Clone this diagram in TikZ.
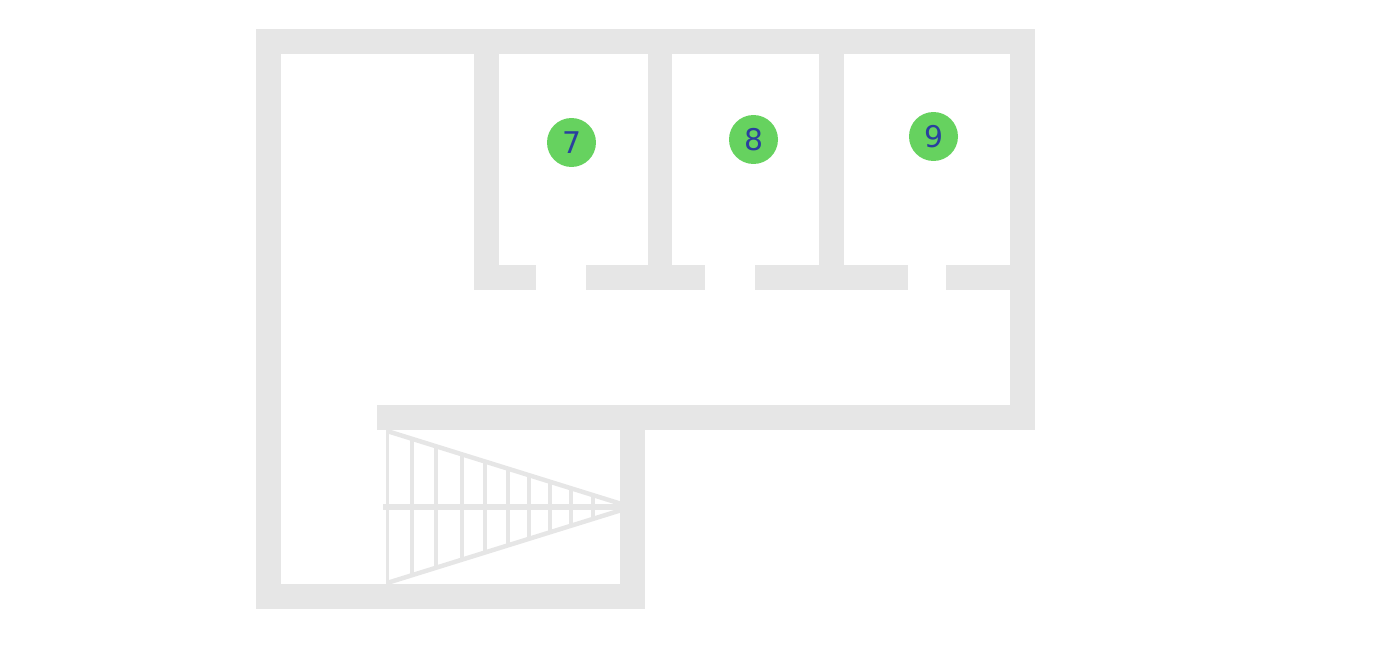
\documentclass[tikz,border=0pt]{standalone}
\usepackage{fontspec}
\setmainfont{DejaVu Sans}
\definecolor{wallgray}{HTML}{E6E6E6}
\definecolor{roomgreen}{HTML}{66D25F}
\definecolor{roomblue}{HTML}{2A3F9F}
\tikzset{
  wall/.style={fill=wallgray,draw=none},
  stair/.style={draw=wallgray,line width=0.07cm},
  room/.style={circle,fill=roomgreen,inner sep=0pt,minimum size=0.98cm,text=roomblue,font=\fontsize{17}{17}\selectfont}
}
\begin{document}
\begin{tikzpicture}[x=0.02cm,y=-0.02cm]
  \useasboundingbox (0,0) rectangle (1374,646);
  % outer walls
  \fill[wall] (256,29) rectangle (1035,54);
  \fill[wall] (256,29) rectangle (281,609);
  \fill[wall] (256,584) rectangle (645,609);
  \fill[wall] (1010,29) rectangle (1035,430);
  \fill[wall] (377,405) rectangle (1035,430);
  \fill[wall] (620,405) rectangle (645,609);
  % room partitions
  \fill[wall] (474,29) rectangle (499,290);
  \fill[wall] (648,29) rectangle (672,290);
  \fill[wall] (819,29) rectangle (844,290);
  % door wall
  \fill[wall] (474,265) rectangle (536,290);
  \fill[wall] (586,265) rectangle (705,290);
  \fill[wall] (755,265) rectangle (908,290);
  \fill[wall] (946,265) rectangle (1035,290);
  % stairs
  \coordinate (tip1) at (620,503.5);
  \coordinate (tip2) at (620,510.5);
  \coordinate (stairtop) at (387,431);
  \coordinate (stairbot) at (387,583);
  \foreach \sx in {387.5,412,436,462,485,508,529,550,571,593}{
    \pgfmathsetmacro{\dy}{(\sx-387)*0.313}
    \draw[stair] (\sx,430+\dy) -- (\sx,584-\dy);
  }
  \draw[stair,line width=0.09cm] (stairtop) -- (tip1);
  \draw[stair,line width=0.09cm] (stairbot) -- (tip2);
  \draw[stair,line width=0.12cm] (383,507) -- (620,507);
  % room numbers
  \node[room] (r7) at (571.5,142.5) {7};
  \node[room] (r8) at (753.5,139.5) {8};
  \node[room] (r9) at (933.5,136.5) {9};
\end{tikzpicture}
\end{document}
